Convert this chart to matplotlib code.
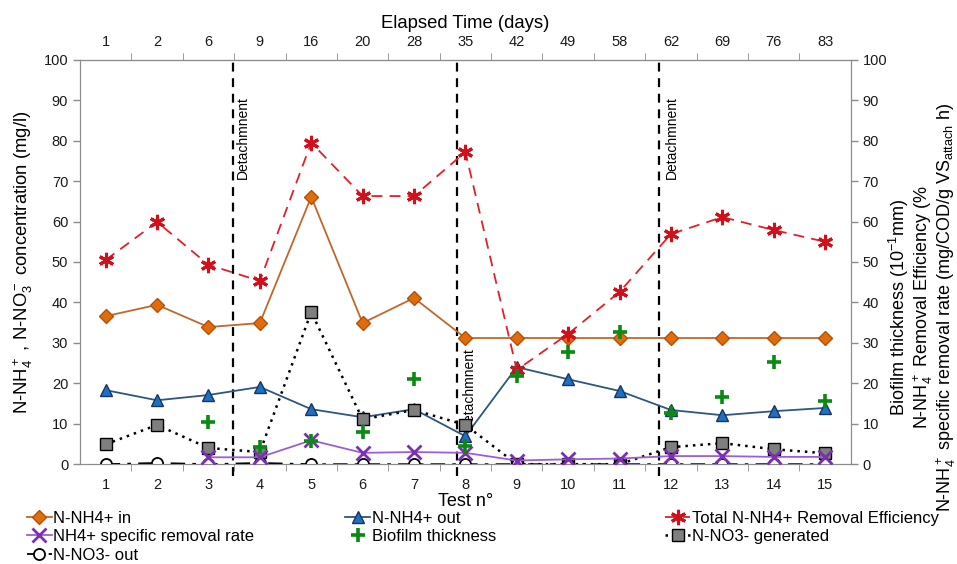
import numpy as np
import matplotlib.pyplot as plt

plt.rcParams['font.family'] = ['Liberation Sans', 'DejaVu Sans']
plt.rcParams['mathtext.fontset'] = 'custom'
plt.rcParams['mathtext.rm'] = 'Liberation Sans'
plt.rcParams['mathtext.it'] = 'Liberation Sans'

# data
tests = np.arange(1, 16)
days = [1, 2, 6, 9, 16, 20, 28, 35, 42, 49, 58, 62, 69, 76, 83]

nh4_in = [36.6, 39.4, 33.9, 34.9, 66.1, 34.9, 41.1, 31.2, 31.2, 31.2, 31.2, 31.2, 31.2, 31.2, 31.2]
nh4_out = [18.3, 15.8, 17.1, 19.1, 13.6, 11.6, 13.6, 6.9, 24.0, 21.0, 18.1, 13.4, 12.1, 13.1, 13.9]
removal_eff = [50.5, 59.9, 49.3, 45.3, 79.5, 66.3, 66.3, 77.2, 23.3, 32.2, 42.6, 56.9, 61.1, 57.9, 55.0]
spec_rate = [np.nan, np.nan, 1.7, 1.7, 5.9, 2.8, 3.0, 2.8, 0.9, 1.2, 1.4, 2.0, 2.0, 1.8, 1.8]
biofilm = [np.nan, np.nan, 10.4, 4.2, 5.7, 7.9, 21.0, 4.5, 21.8, 27.7, 32.7, 12.6, 16.6, 25.2, 15.6]
no3_gen = [4.9, 9.7, 4.0, 3.0, 37.6, 11.1, 13.4, 9.7, 0.0, 0.0, 0.0, 4.2, 5.2, 3.7, 2.7]
no3_out = [0.0, 0.3, 0.0, 0.3, 0.0, 0.0, 0.0, 0.0, 0.0, 0.0, 0.0, 0.0, 0.0, 0.0, 0.0]

detach_pos = [3.47, 7.84, 11.77]

fig = plt.figure(figsize=(9.57, 5.64), dpi=100)
ax = fig.add_axes([0.0836, 0.177, 0.8054, 0.717])
ax2 = ax.twinx()

grey = '#8c8c8c'
star = (6, 2, 0)

l_in, = ax.plot(tests, nh4_in, color='#c0672d', lw=1.3, marker='D', ms=7,
                mfc='#e36c0a', mec='#b0520a', label='N-NH4+ in', zorder=3)
l_out, = ax.plot(tests, nh4_out, color='#2d5680', lw=1.3, marker='^', ms=9,
                 mfc='#1f6fc5', mec='#17375e', label='N-NH4+ out', zorder=3)
l_gen, = ax.plot(tests, no3_gen, color='black', lw=1.8, ls=(0, (1, 2)), marker='s', ms=8,
                 mfc='#7f7f7f', mec='black', label='N-NO3- generated', zorder=4)
l_no3, = ax.plot(tests, no3_out, color='black', lw=1.3, ls=(0, (8, 4, 2, 4)), marker='o', ms=8,
                 mfc='white', mec='black', mew=1.3, label='N-NO3- out', zorder=6)

l_eff, = ax2.plot(tests, removal_eff, color='#e0202a', lw=1.3, ls=(0, (6, 4)), marker=star, ms=11,
                  mec='#d0101a', mew=2.2, label='Total N-NH4+ Removal Efficiency', zorder=3)
l_rate, = ax2.plot(tests, spec_rate, color='#9c5fd2', lw=1.3, marker='x', ms=10,
                   mec='#7a30b0', mew=2, label='NH4+ specific removal rate', zorder=4)
l_bio, = ax2.plot(tests, biofilm, ls='none', marker='+', ms=10, mec='#0a8a12', mew=2.6,
                  label='Biofilm thickness', zorder=5)

# detachment events
for xp in detach_pos:
    ax.axvline(xp, ymin=-0.03, ymax=1, color='black', lw=1.6, ls=(0, (4, 3)), clip_on=False, zorder=2)
ax.text(detach_pos[0] + 0.2, 91, 'Detachmnent', rotation=90, ha='center', va='top', fontsize=10)
ax.text(detach_pos[1] + 0.22, 29, 'Detachmnent', rotation=90, ha='center', va='top', fontsize=10)
ax.text(detach_pos[2] + 0.25, 91, 'Detachmnent', rotation=90, ha='center', va='top', fontsize=10)

for a in (ax, ax2):
    a.set_xlim(0.5, 15.5)
    a.set_ylim(0, 100)
    for s in a.spines.values():
        s.set_color(grey)
    a.set_yticks(np.arange(0, 101, 10))
    a.tick_params(axis='y', colors=grey, labelcolor='#1a1a1a', labelsize=10.5, length=5, width=1)

ax.set_xticks(tests)
ax.set_xticklabels([str(t) for t in tests])
ax.set_xticks(np.arange(1.5, 15, 1), minor=True)
ax.tick_params(axis='x', which='major', length=0, labelsize=10.5, pad=10, labelcolor='#1a1a1a')
ax.tick_params(axis='x', which='minor', length=5, direction='out', color=grey)
ax.set_xlabel('Test n°', fontsize=13, labelpad=1)

top = ax.secondary_xaxis('top')
top.set_xticks(tests)
top.set_xticklabels([str(d) for d in days])
top.set_xticks(np.arange(1.5, 15, 1), minor=True)
top.tick_params(axis='x', which='major', length=0, labelsize=10.5, pad=8, labelcolor='#1a1a1a')
top.tick_params(axis='x', which='minor', length=5, direction='out', color=grey)
top.spines['top'].set_color(grey)
top.set_xlabel('Elapsed Time (days)', fontsize=13.3, labelpad=5)

ax.set_ylabel(r'N-NH$_4^+$ , N-NO$_3^-$ concentration (mg/l)', fontsize=13.3, labelpad=6)
fig.text(0.964, 0.455,
         'Biofilm thickness (10$^{-1}$mm)\n'
         r'N-NH$_4^+$ Removal Efficiency (%' '\n'
         r'N-NH$_4^+$ specific removal rate (mg/COD/g VS$_{attach}$ h)',
         rotation=90, ha='center', va='center', multialignment='center', fontsize=13,
         linespacing=0.98)

leg_kw = dict(frameon=False, fontsize=12, handlelength=1.5, handletextpad=0.1,
              labelspacing=0.2, borderaxespad=0, borderpad=0, loc='upper left')
cols = [[l_in, l_rate, l_no3], [l_out, l_bio], [l_eff, l_gen]]
xs = [0.028, 0.361, 0.695]
for hs, xl in zip(cols, xs):
    fig.legend(handles=hs, bbox_to_anchor=(xl, 0.094), **leg_kw)

fig.savefig('out.png', dpi=100)
